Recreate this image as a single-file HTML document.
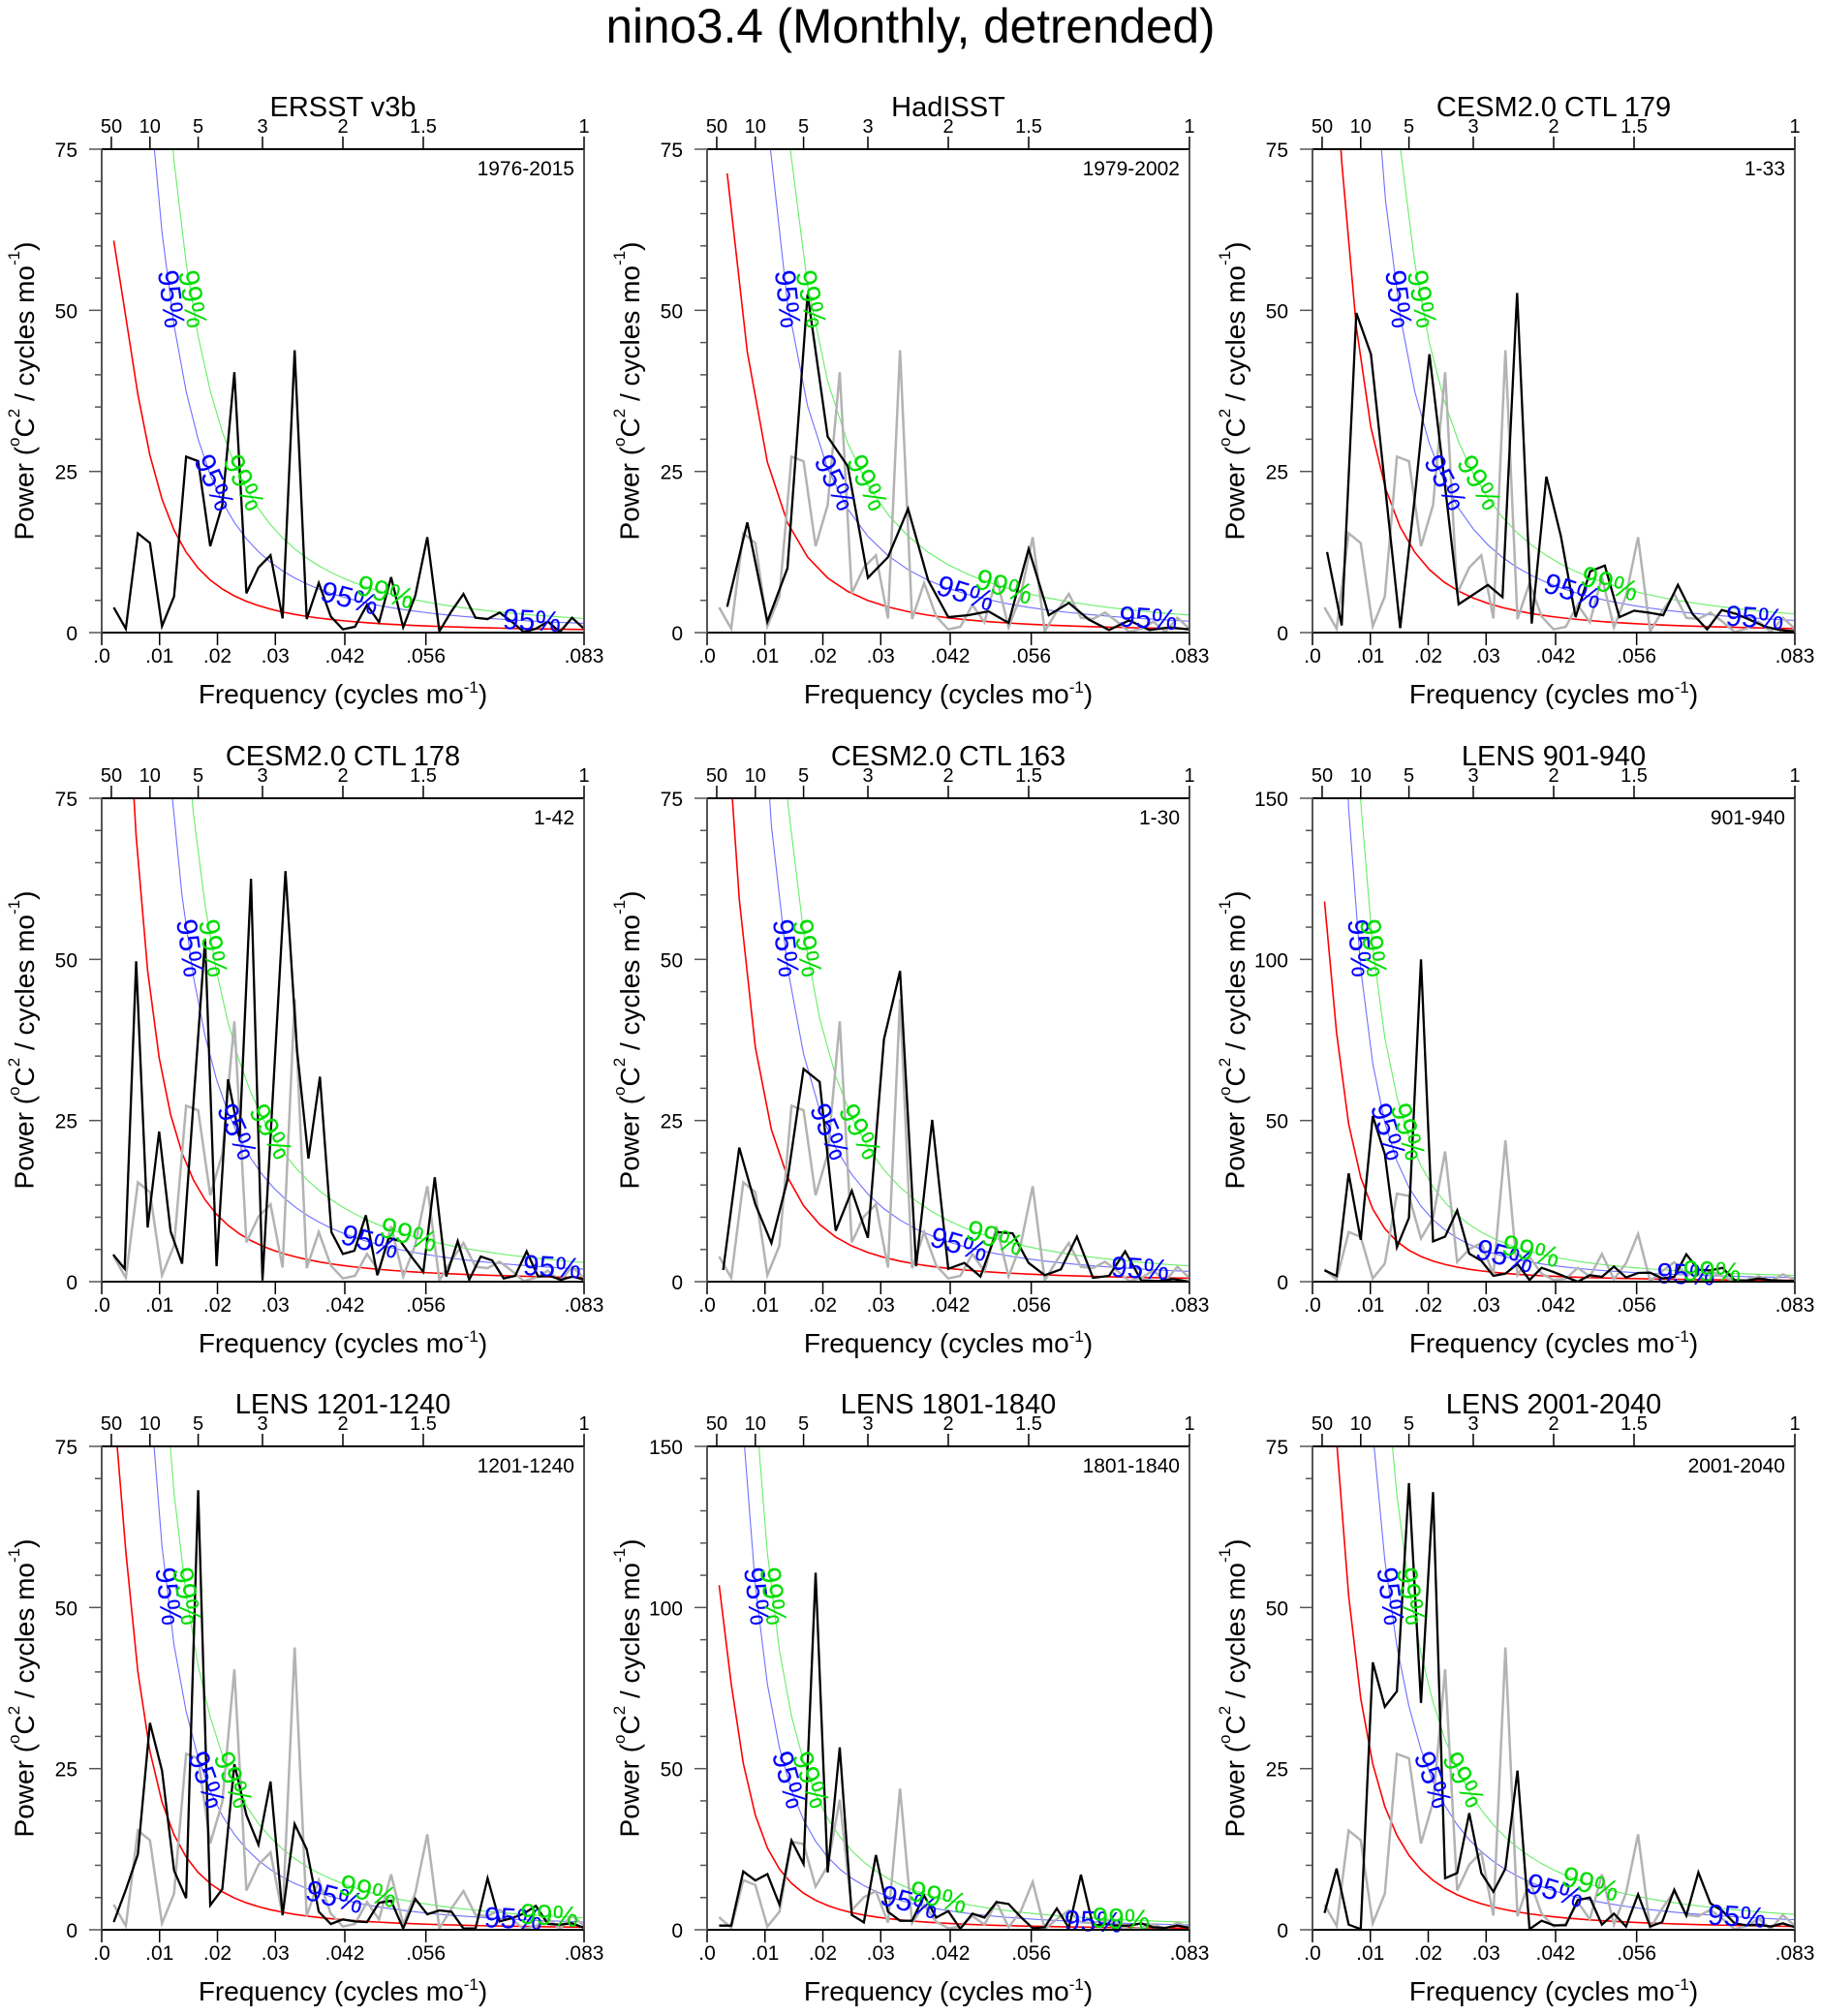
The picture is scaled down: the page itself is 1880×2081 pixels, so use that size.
<!DOCTYPE html>
<html><head><meta charset="utf-8"><style>
html,body{margin:0;padding:0;background:#fff;}
svg{display:block;font-family:"Liberation Sans",sans-serif;}
</style></head><body>
<svg id="fig" width="1880" height="2081" viewBox="0 0 1880 2081" xmlns="http://www.w3.org/2000/svg">
<text x="940" y="44" text-anchor="middle" font-size="50" textLength="629" lengthAdjust="spacingAndGlyphs">nino3.4 (Monthly, detrended)</text>
</svg>
<script>
// ---------- data ----------
const panelTitles=["ERSST v3b","HadISST","CESM2.0 CTL 179","CESM2.0 CTL 178","CESM2.0 CTL 163","LENS 901-940","LENS 1201-1240","LENS 1801-1840","LENS 2001-2040"];
const periodLabels=["1976-2015","1979-2002","1-33","1-42","1-30","901-940","1201-1240","1801-1840","2001-2040"];
const yMaxes=[75,75,75,75,75,150,75,150,75];
const nYears=[40,24,33,42,30,40,40,40,40];
const ersst=[3.9,0.6,15.4,13.9,1.0,5.6,27.3,26.6,13.4,19.8,40.4,6.1,10.1,12,2.2,43.8,2.1,7.7,2.5,0.5,0.9,4.3,1.6,8.6,0.8,5.7,14.8,0.2,3.3,6.0,2.3,2.1,3.1,1.7,0.1,0.6,1.7,0.1,2.3,0.6];
const hadisst=[4.0,17.1,1.7,10.0,52.5,30.4,25.8,8.5,11.7,19.2,8.1,2.4,2.7,3.3,1.5,13.0,2.7,4.6,2.0,0.4,1.9,0.4,0.8,0.5];
const ctl179=[12.5,1.1,49.6,43.2,22,0.7,21,43.2,24.1,4.4,5.9,7.4,5.5,52.7,1.4,24.2,14.9,2.4,9.5,10.4,2.4,3.4,3.1,2.7,7.4,2.9,0.5,3.5,2.9,1.9,0.9,0.4,0.2];
const ctl178=[4.2,2.0,49.7,8.4,23.3,7.8,2.8,28,53.2,2.4,31.4,22.3,62.5,0.2,32,63.7,36,19.1,31.8,7.7,4.3,4.8,10.3,1.0,6.8,6.3,3.8,1.5,16.2,0.8,6.3,0.3,3.9,3.3,0.5,0.9,4.7,0.8,0.9,0.3,0.8,0.3];
const ctl163=[1.8,20.8,12.0,6.0,15.8,33.0,31.0,7.9,14.1,6.8,37.6,48.2,2.4,25.1,2.0,2.9,0.8,7.7,7.5,2.9,1.0,1.9,7.0,0.6,0.9,4.7,0.2,0.1,0.4,0];
const lens901=[3.5,1.8,33.6,13.0,51.4,39.6,10.7,19.8,100.0,12.5,14.0,22.1,8.7,6.5,1.8,2.5,5.5,0.5,4.3,3.0,1.5,0,2.0,1.5,4.7,1.3,2.7,2.8,1.0,1.5,8.5,3.7,3.5,4.3,0.5,0.3,1.0,0.5,0.3,0.2];
const lens1201=[1.2,6.2,11.7,32.1,24.7,9.2,4.9,68.2,3.8,6.3,25.7,17.8,13.2,23.0,2.3,16.4,12.5,2.8,0.9,1.6,1.3,1.2,4.2,4.5,0.2,4.8,2.4,3.0,2.8,0.2,0.2,8.0,1.3,1.8,2.5,3.7,0.9,0.8,1.0,0.3];
const lens1801=[1.3,1.3,18.1,15.3,17.3,7.8,27.7,20.4,110.8,17.8,56.6,4.6,2.3,23.2,5.6,2.8,2.8,10.6,3.8,5.8,0.3,5.0,3.8,8.6,8.0,4.0,0.5,0.8,6.6,0.6,17.1,1.3,1.8,1.3,1.3,2.0,0.8,0.6,1.3,0.6];
const lens2001=[2.6,9.5,0.8,0.1,41.5,34.6,37.0,69.3,35.2,67.9,8.0,8.8,18.1,8.8,5.9,9.5,24.7,0.1,1.4,0.7,0.7,4.6,5.0,0.8,2.5,0.5,5.5,0.5,1.2,6.2,2.2,8.9,4.1,2.9,1.0,0.7,0.8,0.5,1.0,0.4];
const seriesList=[ersst,hadisst,ctl179,ctl178,ctl163,lens901,lens1201,lens1801,lens2001];
// red-noise (AR1) parameters per panel
const redA=[0.00195,0.00177,0.00132,0.00112,0.00119,0.0008,0.00115,0.00111,0.00116];
const redC=[0.129,0.160,0.170,0.174,0.143,0.1146,0.1077,0.137,0.140];
const mult95=3.0, mult99=4.6;
const topPeriods=[50,10,5,3,2,1.5,1];
const bottomTickVals=[0,0.01,0.02,0.03,0.042,0.056,1/12];
const bottomTickLabels=[".0",".01",".02",".03",".042",".056",".083"];
// frequency positions of the low-slope curve labels
const blueLblF3=[.0428,.0446,.0449,.0463,.0435,.0332,.0402,.0349,.0419];
const greenLblF3=[.049,.0513,.0513,.053,.0497,.0377,.046,.0399,.048];
const blueLblF4=[.0743,.0762,.0764,.0778,.0748,.0645,.0711,.0667,.0733];
const greenLblF4=[null,null,null,null,null,.069,.0773,.0715,null];

// ---------- layout ----------
const NS="http://www.w3.org/2000/svg";
const svg=document.getElementById('fig');
const lefts=[105,730,1355], tops=[154,824,1493], PW=498, PH=499, FMAX=1/12;
function el(tag,attrs,parent,txt){const e=document.createElementNS(NS,tag);for(const k in attrs)e.setAttribute(k,attrs[k]);if(txt!==undefined)e.textContent=txt;(parent||svg).appendChild(e);return e;}

for(let p=0;p<9;p++){
  const x0=lefts[p%3], y0=tops[Math.floor(p/3)], ymax=yMaxes[p];
  const xs=f=>x0+f/FMAX*PW;
  const ys=v=>y0+PH-v/ymax*PH;
  const g=el('g',{});
  
  
  const cp=el('clipPath',{id:'clip'+p},g);
  el('rect',{x:x0,y:y0,width:PW,height:PH},cp);
  const plot=el('g',{'clip-path':'url(#clip'+p+')'},g);

  const N=nYears[p];
  const freqs=[];for(let k=1;k<=N;k++)freqs.push(k/(12*N));
  const red=f=>redC[p]/(redA[p]+2*(1-Math.cos(2*Math.PI*f)));
  function curvePts(m){return freqs.map(f=>[xs(f),ys(red(f)*m)]);}
  const curves=[[1,'#ff0000',1.6,'red-noise-curve'],[mult95,'#6f6fff',1.1,'confidence-95-curve'],[mult99,'#66ee66',1.1,'confidence-99-curve']];
  const curvePix={};
  curves.forEach(c=>{
    const pts=curvePts(c[0]);curvePix[c[0]]=pts;
    const pl=el('polyline',{points:pts.map(q=>q.join(',')).join(' '),fill:'none',stroke:c[1],'stroke-width':c[2]},plot);
    
    
  });
  if(p>0){
    const gf=ersst.map((v,i)=>[xs((i+1)/480),ys(v)]);
    const gl=el('polyline',{points:gf.map(q=>q.join(',')).join(' '),fill:'none',stroke:'#b3b3b3','stroke-width':2.5},plot);
    
    
  }
  const data=seriesList[p];
  const bl=el('polyline',{points:data.map((v,i)=>[xs(freqs[i]),ys(v)].join(',')).join(' '),fill:'none',stroke:'#000','stroke-width':2.3,'stroke-linejoin':'miter'},plot);
  
  

  // curve labels
  function labelAtY(pts,yt,txt,col){
    for(let i=0;i<pts.length-1;i++){const a=pts[i],b=pts[i+1];
      if(a[1]<=yt&&b[1]>=yt){const t=(yt-a[1])/(b[1]-a[1]);const x=a[0]+t*(b[0]-a[0]);
        const ang=Math.atan2(b[1]-a[1],b[0]-a[0])*180/Math.PI;placeLbl(x,yt,ang,txt,col);return;}}
  }
  function labelAtX(pts,xt,txt,col){
    for(let i=0;i<pts.length-1;i++){const a=pts[i],b=pts[i+1];
      if(a[0]<=xt&&b[0]>=xt){const t=(xt-a[0])/(b[0]-a[0]);const y=a[1]+t*(b[1]-a[1]);
        const ang=Math.atan2(b[1]-a[1],b[0]-a[0])*180/Math.PI;placeLbl(xt,y,ang,txt,col);return;}}
  }
  function placeLbl(x,y,ang,txt,col){
    const t=el('text',{x:x,y:y,'text-anchor':'middle','dominant-baseline':'central','font-size':30,fill:col,transform:'rotate('+ang.toFixed(1)+' '+x.toFixed(1)+' '+y.toFixed(1)+')'},g,txt);
    
    
  }
  const b=curvePix[mult95], gr=curvePix[mult99];
  labelAtY(b,y0+PH*(1-0.69),'95%','#0000ff');
  labelAtY(gr,y0+PH*(1-0.69),'99%','#00dd00');
  labelAtY(b,y0+PH*(1-0.31),'95%','#0000ff');
  labelAtY(gr,y0+PH*(1-0.31),'99%','#00dd00');
  labelAtX(b,xs(blueLblF3[p]),'95%','#0000ff');
  labelAtX(gr,xs(greenLblF3[p]),'99%','#00dd00');
  labelAtX(b,xs(blueLblF4[p]),'95%','#0000ff');
  if(greenLblF4[p]!==null)labelAtX(gr,xs(greenLblF4[p]),'99%','#00dd00');

  // frame
  el('line',{x1:x0,y1:y0,x2:x0+PW,y2:y0,stroke:'#000','stroke-width':2},g);
  el('line',{x1:x0,y1:y0+PH,x2:x0+PW,y2:y0+PH,stroke:'#000','stroke-width':2},g);
  el('line',{x1:x0,y1:y0,x2:x0,y2:y0+PH,stroke:'#555','stroke-width':2},g);
  el('line',{x1:x0+PW,y1:y0,x2:x0+PW,y2:y0+PH,stroke:'#555','stroke-width':2},g);
  // top axis (period, years)
  topPeriods.forEach(P=>{const x=xs(1/(12*P));
    el('line',{x1:x,y1:y0,x2:x,y2:y0-13,stroke:'#000','stroke-width':1.5},g);
    const t=el('text',{x:x,y:y0-17,'text-anchor':'middle','font-size':20},g,String(P));
    
    
  });
  // bottom axis
  bottomTickVals.forEach((f,i)=>{const x=xs(f);
    el('line',{x1:x,y1:y0+PH,x2:x,y2:y0+PH+13,stroke:'#000','stroke-width':1.5},g);
    const t=el('text',{x:x,y:y0+PH+31,'text-anchor':'middle','font-size':21},g,bottomTickLabels[i]);
    
    
  });
  // y axis
  const major=ymax/3, minor=ymax===75?5:10;
  for(let v=0;v<=ymax+0.01;v+=minor){const y=ys(v);const isMaj=Math.abs(v/major-Math.round(v/major))<1e-6;
    el('line',{x1:x0,y1:y,x2:x0-(isMaj?13:7),y2:y,stroke:'#555','stroke-width':1.5},g);
    if(isMaj){const t=el('text',{x:x0-25,y:y+8,'text-anchor':'end','font-size':21},g,String(Math.round(v)));
      
      }
  }
  // titles
  const tt=el('text',{x:x0+PW/2,y:y0-34,'text-anchor':'middle','font-size':29},g,panelTitles[p]);
  
  
  const yl=el('text',{x:x0+PW-10,y:y0+27,'text-anchor':'end','font-size':21},g,periodLabels[p]);
  
  
  const xt=el('text',{x:x0+PW/2,y:y0+PH+73,'text-anchor':'middle','font-size':28},g);
  
  
  xt.innerHTML='Frequency (cycles mo<tspan dy="-11" font-size="17">-1</tspan><tspan dy="11">)</tspan>';
  const cx=x0-80, cy=y0+PH/2;
  const yt=el('text',{x:cx,y:cy,'text-anchor':'middle','dominant-baseline':'central','font-size':28,transform:'rotate(-90 '+cx+' '+cy+')'},g);
  
  
  yt.innerHTML='Power (<tspan dy="-11" font-size="17">o</tspan><tspan dy="11">C</tspan><tspan dy="-11" font-size="17">2</tspan><tspan dy="11"> / cycles mo</tspan><tspan dy="-11" font-size="17">-1</tspan><tspan dy="11">)</tspan>';
}
</script>
</body></html>
